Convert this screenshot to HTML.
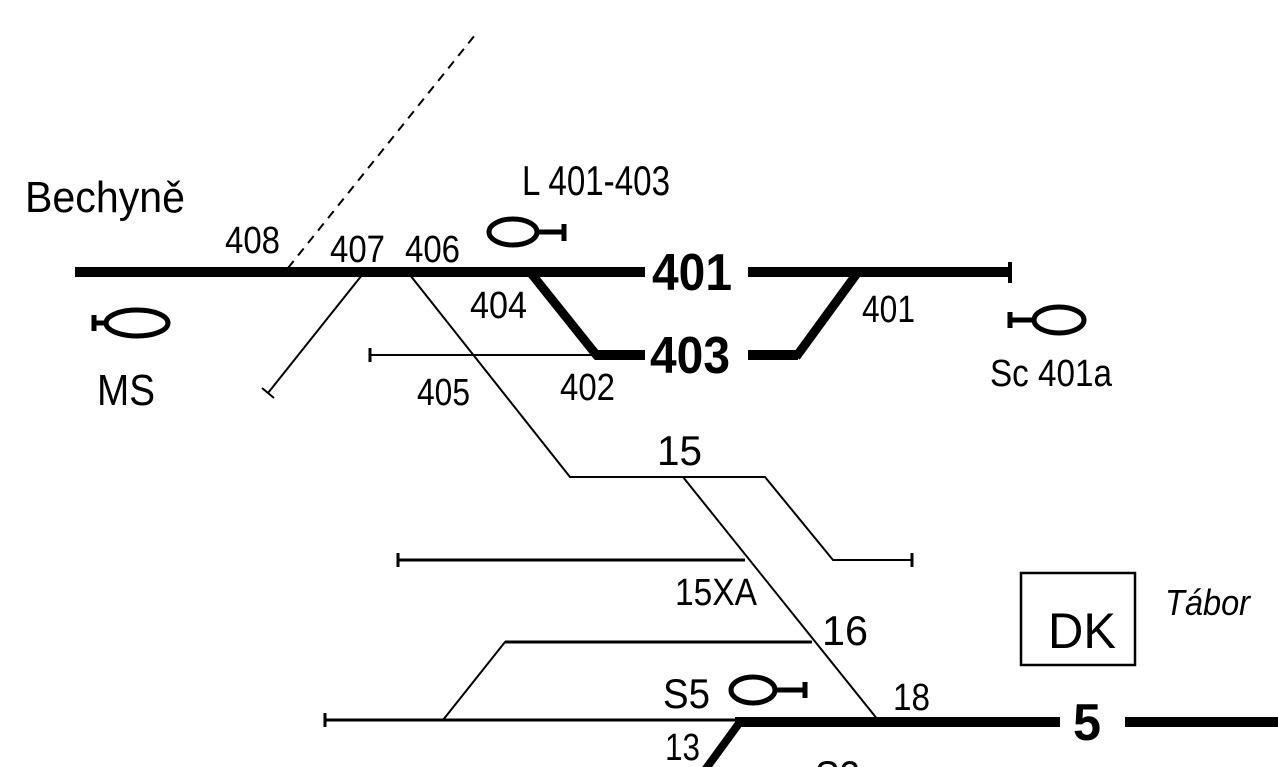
<!DOCTYPE html>
<html><head><meta charset="utf-8"><style>
html,body{margin:0;padding:0;background:#fff;width:1278px;height:767px;overflow:hidden}
svg{display:block}
text{font-family:"Liberation Sans",sans-serif;fill:#000}
</style></head><body>
<svg width="1278" height="767" viewBox="0 0 1278 767" xmlns="http://www.w3.org/2000/svg">
<g stroke="#000" fill="none" stroke-linecap="butt">
<line x1="288" y1="268" x2="475" y2="35" stroke-width="2" stroke-dasharray="9,7"/>
<line x1="75" y1="272" x2="645" y2="272" stroke-width="10"/>
<line x1="748" y1="272" x2="1010" y2="272" stroke-width="10"/>
<line x1="1010" y1="262" x2="1010" y2="283" stroke-width="4"/>
<line x1="595" y1="355" x2="645" y2="355" stroke-width="10"/>
<line x1="748" y1="355" x2="798" y2="355" stroke-width="10"/>
<polyline points="796,357 858,272" stroke-width="9"/>
<polyline points="530,272 598,357" stroke-width="9"/>
<line x1="370" y1="355" x2="597" y2="355" stroke-width="2"/>
<line x1="370" y1="348" x2="370" y2="362" stroke-width="3"/>
<line x1="362" y1="275" x2="268" y2="393" stroke-width="2"/>
<line x1="262" y1="388" x2="274" y2="398" stroke-width="2"/>
<polyline points="410,275 570,477 765,477 833,560 912,560" stroke-width="2"/>
<line x1="912" y1="553" x2="912" y2="567" stroke-width="3"/>
<line x1="683" y1="477" x2="878" y2="720" stroke-width="2"/>
<line x1="398" y1="560" x2="745" y2="560" stroke-width="3"/>
<line x1="398" y1="553" x2="398" y2="567" stroke-width="3"/>
<polyline points="443,720 505,642 812,642" stroke-width="2"/>
<line x1="505" y1="642" x2="812" y2="642" stroke-width="3"/>
<line x1="325" y1="720" x2="878" y2="720" stroke-width="3"/>
<line x1="325" y1="713" x2="325" y2="727" stroke-width="3"/>
<line x1="735" y1="722" x2="1060" y2="722" stroke-width="10"/>
<line x1="1125" y1="722" x2="1278" y2="722" stroke-width="10"/>
<line x1="740" y1="722" x2="705" y2="770" stroke-width="8"/>
<ellipse cx="513" cy="232" rx="24" ry="13" stroke-width="5"/>
<line x1="537" y1="232" x2="564" y2="232" stroke-width="5"/>
<line x1="564" y1="224" x2="564" y2="241" stroke-width="5"/>
<ellipse cx="137" cy="323" rx="31" ry="13" stroke-width="5"/>
<line x1="94" y1="323" x2="106" y2="323" stroke-width="5"/>
<line x1="94" y1="315" x2="94" y2="331" stroke-width="5"/>
<ellipse cx="1059" cy="320" rx="25" ry="13" stroke-width="5"/>
<line x1="1010" y1="320" x2="1034" y2="320" stroke-width="5"/>
<line x1="1010" y1="312" x2="1010" y2="328" stroke-width="5"/>
<ellipse cx="753" cy="690" rx="22" ry="13" stroke-width="5"/>
<line x1="775" y1="690" x2="805" y2="690" stroke-width="5"/>
<line x1="805" y1="682" x2="805" y2="698" stroke-width="5"/>
<rect x="1021" y="573" width="114" height="92" stroke-width="2.5"/>
</g>
<text x="25" y="212" font-size="44" textLength="160" lengthAdjust="spacingAndGlyphs">Bechyně</text>
<text x="522" y="195" font-size="42" textLength="148" lengthAdjust="spacingAndGlyphs">L 401-403</text>
<text x="225" y="253" font-size="38" textLength="55" lengthAdjust="spacingAndGlyphs">408</text>
<text x="330" y="262" font-size="38" textLength="55" lengthAdjust="spacingAndGlyphs">407</text>
<text x="405" y="262" font-size="38" textLength="55" lengthAdjust="spacingAndGlyphs">406</text>
<text x="652" y="290" font-size="52" font-weight="bold" textLength="80" lengthAdjust="spacingAndGlyphs">401</text>
<text x="470" y="318" font-size="38" textLength="57" lengthAdjust="spacingAndGlyphs">404</text>
<text x="862" y="322" font-size="38" textLength="53" lengthAdjust="spacingAndGlyphs">401</text>
<text x="650" y="373" font-size="52" font-weight="bold" textLength="80" lengthAdjust="spacingAndGlyphs">403</text>
<text x="417" y="405" font-size="38" textLength="53" lengthAdjust="spacingAndGlyphs">405</text>
<text x="560" y="400" font-size="38" textLength="55" lengthAdjust="spacingAndGlyphs">402</text>
<text x="97" y="405" font-size="44" textLength="58" lengthAdjust="spacingAndGlyphs">MS</text>
<text x="990" y="386" font-size="38" textLength="122" lengthAdjust="spacingAndGlyphs">Sc 401a</text>
<text x="657" y="465" font-size="42" textLength="45" lengthAdjust="spacingAndGlyphs">15</text>
<text x="675" y="605" font-size="38" textLength="82" lengthAdjust="spacingAndGlyphs">15XA</text>
<text x="822" y="645" font-size="42" textLength="46" lengthAdjust="spacingAndGlyphs">16</text>
<text x="1048" y="648" font-size="50" textLength="68" lengthAdjust="spacingAndGlyphs">DK</text>
<text x="1165" y="615" font-size="36" font-style="italic" textLength="85" lengthAdjust="spacingAndGlyphs">Tábor</text>
<text x="663" y="708" font-size="42" textLength="47" lengthAdjust="spacingAndGlyphs">S5</text>
<text x="893" y="710" font-size="38" textLength="37" lengthAdjust="spacingAndGlyphs">18</text>
<text x="1073" y="740" font-size="52" font-weight="bold" textLength="28" lengthAdjust="spacingAndGlyphs">5</text>
<text x="665" y="760" font-size="38" textLength="35" lengthAdjust="spacingAndGlyphs">13</text>
<text x="815" y="790" font-size="42" textLength="45" lengthAdjust="spacingAndGlyphs">S2</text>
</svg>
</body></html>
